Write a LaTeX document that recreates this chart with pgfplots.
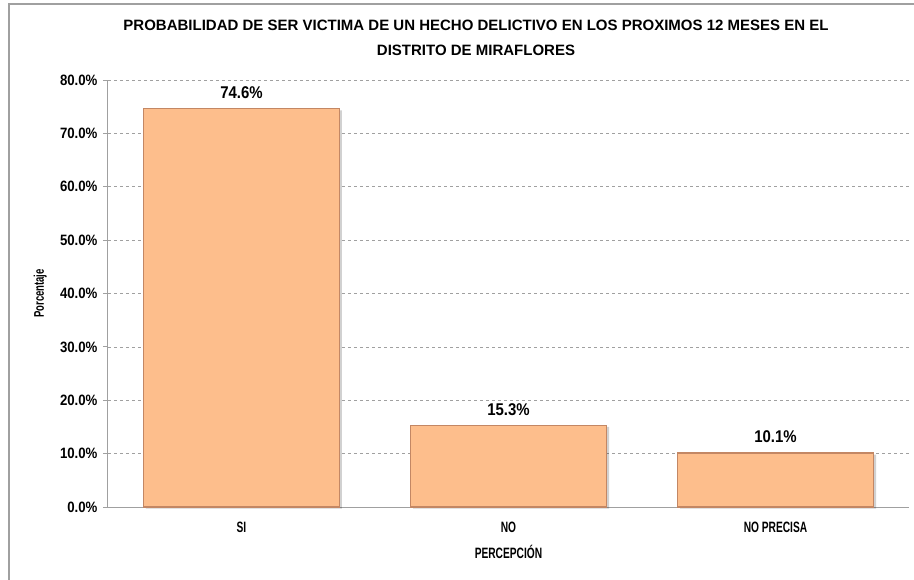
\documentclass[border=0pt]{standalone}
\usepackage{fontspec}
\setmainfont{Liberation Sans}[FakeStretch=0.72]
\newfontfamily\titlefont{Liberation Sans}[FakeStretch=1.0]
\newfontfamily\numfont{Liberation Sans}[FakeStretch=0.88]
\newfontfamily\labfont{Liberation Sans}[FakeStretch=0.68]
\usepackage{pgfplots}
\pgfplotsset{compat=1.18}
\definecolor{barfill}{RGB}{253,190,140}
\definecolor{baredge}{RGB}{195,135,100}
\definecolor{axgray}{RGB}{160,160,160}
\begin{document}
\begin{tikzpicture}[font=\bfseries]
\useasboundingbox (-108pt,-72pt) rectangle (806pt,507pt);
\draw[color=axgray, line width=1.2pt] (-99pt,-80pt) -- (-99pt,503pt) -- (820pt,503pt);
\begin{axis}[
  at={(0pt,0pt)}, anchor=south west,
  scale only axis, width=801pt, height=427pt,
  xmin=-0.5, xmax=2.5, ymin=0, ymax=80,
  axis x line*=bottom, axis y line*=left,
  axis line style={color=axgray, line width=1pt},
  xtick={0,1,2}, xticklabels={SI,NO,NO PRECISA},
  major x tick style={draw=none},
  extra x ticks={-0.5,0.5,1.5,2.5}, extra x tick labels={},
  extra x tick style={major tick length=6pt, tick style={color=axgray, line width=1pt}, tick align=outside, grid=none},
  ytick={0,10,...,80},
  yticklabel={\pgfmathprintnumber[fixed,fixed zerofill,precision=1]{\tick}\%},
  /pgf/number format/assume math mode=true,
  ytick style={color=axgray, line width=1pt}, tick align=outside, major tick length=5pt,
  ymajorgrids, grid style={dashed, color=axgray, line width=0.6pt},
  xticklabel style={font=\labfont\bfseries\fontsize{15}{18}\selectfont, text=black, yshift=-6pt},
  yticklabel style={font=\numfont\bfseries\fontsize{15}{18}\selectfont, text=black, xshift=-2pt},
  ylabel={Porcentaje}, ylabel style={font=\labfont\bfseries\fontsize{14}{16}\selectfont, at={(axis description cs:-0.072,0.5)}, anchor=south},
  xlabel={PERCEPCIÓN}, xlabel style={font=\labfont\bfseries\fontsize{15}{18}\selectfont, yshift=5pt},
  ybar, bar width=196pt,
  clip=false,
]
\addplot[bar shift=2.5pt, yshift=-1.5pt, fill=black, opacity=0.18, draw=none] coordinates {(0,74.6) (1,15.3) (2,10.1)};
\addplot[bar shift=0pt, fill=barfill, draw=baredge, line width=1.2pt,
  nodes near coords={\pgfmathprintnumber[fixed,precision=1]{\pgfplotspointmeta}\%},
  nodes near coords style={font=\numfont\bfseries\fontsize{17}{20}\selectfont, text=black, yshift=6pt, opacity=1}] coordinates {(0,74.6) (1,15.3) (2,10.1)};
\end{axis}
\node[font=\titlefont\bfseries\fontsize{15}{25}\selectfont, align=center] at (368pt,469pt) {PROBABILIDAD DE SER VICTIMA DE UN HECHO DELICTIVO EN LOS PROXIMOS 12 MESES EN EL\\DISTRITO DE MIRAFLORES};
\end{tikzpicture}
\end{document}
